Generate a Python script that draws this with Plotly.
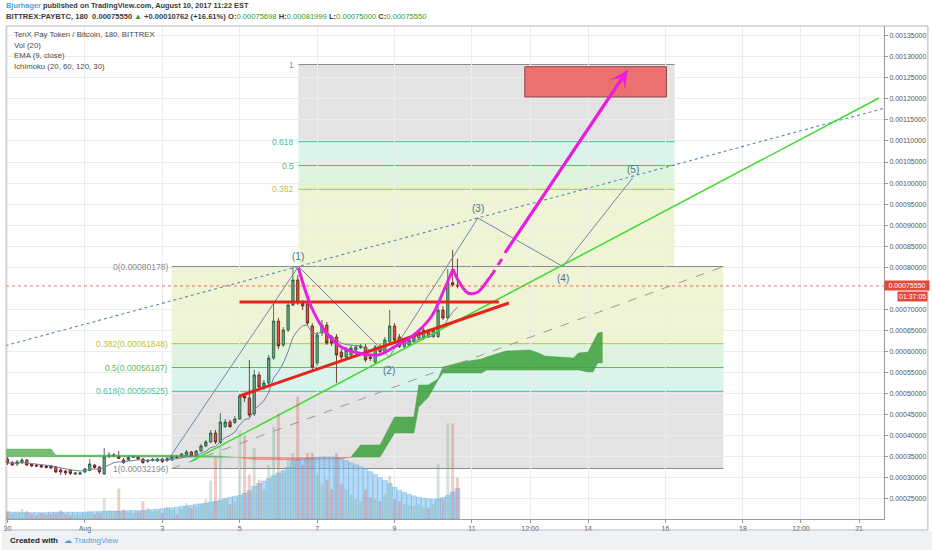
import pandas as pd
import numpy as np
import plotly.graph_objects as go

SAT = 1e-8
FIRST_BAR = pd.Timestamp('2017-07-30 00:00')
BAR_HOURS = 3

# BITTREX:PAYBTC 3h candles from 2017-07-30 00:00, prices in satoshi
OPEN = [34456, 33577, 33268, 33506, 34218, 33268, 33031, 32912, 32793, 32793,
        32556, 31843, 31606, 31843, 30893, 30893, 31368, 31725, 33031, 32556,
        30893, 35049, 35168, 35168, 34218, 34218, 34812, 34931, 34456, 33862,
        34099, 33981, 34456, 34099, 34218, 35049, 34931, 35168, 36118, 35168,
        36356, 37543, 38493, 40631, 38374, 42175, 43244, 43125, 43956, 49419,
        48944, 45144, 54407, 51557, 52507, 58445, 67233, 61532, 65095, 71033,
        76972, 71508, 71271, 66045, 57257, 64383, 66283, 63433, 63433, 59870,
        58682, 59157, 60345, 60938, 61057, 58682, 57495, 61176, 59988, 62364,
        66045, 63433, 61176, 61532, 62364, 63195, 63195, 64739, 63551, 63551,
        69846, 67945, 76330, 75698]
HIGH = [34931, 33981, 34218, 34693, 34456, 33506, 33268, 33031, 33031, 33031,
        32793, 32318, 31843, 32081, 31368, 31368, 32318, 34456, 33268, 32793,
        37068, 36118, 35881, 36356, 34693, 35168, 35406, 35168, 34693, 34456,
        34693, 34693, 34693, 34931, 35406, 35406, 35881, 36593, 36356, 36593,
        38018, 38967, 41343, 41343, 45381, 43956, 43719, 44669, 49894, 50131,
        57970, 55595, 55120, 53219, 59157, 71508, 67945, 65808, 71746, 80178,
        78159, 72221, 71746, 66758, 64620, 67470, 66995, 63908, 64145, 60582,
        61057, 61532, 61532, 61770, 61770, 59157, 61532, 61770, 63433, 69846,
        66758, 64145, 62958, 63195, 64383, 65333, 65570, 65333, 65570, 70558,
        70796, 79584, 84098, 81999]
LOW = [33031, 32793, 32793, 33268, 32793, 32556, 32556, 32318, 32200, 32081,
       31131, 30656, 30656, 30656, 30656, 30656, 31131, 31606, 32081, 30893,
       30656, 34693, 34931, 34456, 33268, 33981, 34693, 34218, 33268, 33506,
       33862, 33743, 33506, 33743, 33981, 34574, 34693, 34931, 34931, 34931,
       36118, 37306, 38256, 38018, 38018, 41818, 41818, 42769, 43719, 47994,
       44431, 44669, 51082, 50844, 52032, 57970, 60582, 61057, 64620, 70796,
       71033, 69846, 66045, 55120, 56545, 63670, 61532, 61295, 52507, 57970,
       58207, 58682, 59870, 60582, 57495, 57732, 57020, 59395, 59632, 62007,
       62245, 60820, 60820, 61057, 62007, 62720, 62720, 63195, 63195, 63195,
       67470, 67708, 75309, 75000]
CLOSE = [33506, 33031, 33815, 34218, 33031, 32793, 32793, 32556, 32437, 32318,
         31368, 31368, 31131, 31012, 31131, 31131, 32081, 33268, 32437, 31368,
         35002, 35406, 35406, 34574, 33624, 34812, 35049, 34456, 33624, 34218,
         34337, 34456, 33862, 34574, 35049, 34812, 35643, 36118, 35168, 36356,
         37543, 38493, 40631, 38493, 43244, 43244, 42175, 43956, 49419, 48944,
         44906, 54407, 51557, 52507, 58445, 67233, 61295, 65095, 71033, 76972,
         71508, 70796, 66758, 56307, 63908, 66283, 62007, 62007, 59157, 58682,
         60345, 60820, 61057, 61295, 57970, 58326, 61057, 59988, 62720, 66045,
         62720, 61176, 62364, 62720, 63908, 64739, 65095, 63551, 65095, 69846,
         67945, 76259, 75784, 75550]
VOLUME = [14, 10, 12, 20, 16, 10, 8, 12, 9, 10,
          12, 18, 10, 8, 9, 8, 12, 14, 10, 12,
          42, 18, 16, 62, 20, 14, 12, 16, 36, 22,
          14, 16, 12, 24, 18, 10, 20, 32, 22, 26,
          30, 40, 78, 124, 150, 40, 30, 36, 180, 170,
          90, 144, 80, 60, 110, 188, 214, 100, 120, 134,
          248, 110, 134, 134, 90, 70, 80, 60, 134, 70,
          60, 50, 40, 36, 60, 44, 40, 36, 50, 88,
          40, 36, 30, 28, 26, 30, 24, 22, 30, 112,
          40, 194, 194, 84]
VOL_MA = [15, 14, 14, 13, 13, 13, 13, 13, 13, 14,
          14, 14, 14, 14, 14, 14, 14, 15, 15, 15,
          16, 16, 16, 16, 16, 17, 17, 17, 17, 18,
          19, 20, 21, 22, 23, 24, 26, 26, 28, 30,
          31, 32, 34, 36, 38, 42, 44, 46, 48, 52,
          58, 66, 72, 77, 82, 88, 93, 98, 105, 118,
          120, 122, 123, 124, 125, 126, 126, 126, 125, 122,
          118, 114, 110, 106, 102, 96, 90, 84, 78, 72,
          64, 58, 54, 50, 47, 44, 42, 41, 40, 41,
          44, 48, 55, 62]

# Ichimoku (20, 60, 120, 30) cloud: bar index, span A, span B
CLOUD1_BAR = [-2, 9, 10, 33, 43, 47]
CLOUD1_A = [36830, 36830, 35400, 35400, 35170, 34870]
CLOUD1_B = [35000, 35000, 35000, 35000, 34930, 34870]
CLOUD2_BAR = [47, 51, 60, 69, 71]
CLOUD2_A = [34870, 34340, 34220, 34460, 34900]
CLOUD2_B = [34870, 34930, 34810, 34930, 34900]
CLOUD3_BAR = [71, 73, 77, 80, 84, 85, 87, 89, 90, 94, 98, 99, 103, 108, 110,
              111, 117, 118, 120, 121, 122, 123]
CLOUD3_A = [34900, 37780, 37780, 44430, 44430, 52030, 52030, 53500, 56310, 57500,
            58200, 58680, 60110, 60350, 59500, 58920, 58450, 59630, 59870, 62000,
            64380, 64620]
CLOUD3_B = [34900, 34900, 34900, 40630, 40630, 46800, 49180, 53220, 54880, 54880,
            54880, 55600, 55600, 55600, 55600, 55600, 55600, 55600, 55120, 55120,
            57260, 57260]

# fib retracements
FIB_LO_T = ['2017-08-03 05:50', '2017-08-17 11:55']
FIB_LO_P = [80178, 61848, 56187, 50525, 32196]
FIB_LO_LABELS = ['0(0.00080178)', '0.382(0.00061848)', '0.5(0.00056187)',
                 '0.618(0.00050525)', '1(0.00032196)']
FIB_UP_T = ['2017-08-06 12:25', '2017-08-16 05:35']
FIB_UP_P = [80178, 98507, 104169, 109831, 128160]
FIB_UP_LABELS = ['', '0.382', '0.5', '0.618', '1']
FIB_LINE = ['#8c8c8c', '#b9c23d', '#5dbd5d', '#4cbf9f', '#8c8c8c']
FIB_ZONE = ['rgba(180,210,60,0.22)', 'rgba(90,200,90,0.2)',
            'rgba(60,200,160,0.2)', 'rgba(128,128,128,0.22)']

# elliott wave
WAVE_T = ['2017-08-03 04:00', '2017-08-06 12:25', '2017-08-08 20:40',
          '2017-08-11 03:40', '2017-08-13 08:20', '2017-08-15 03:35']
WAVE_P = [34456, 80178, 58682, 91700, 80178, 101200]
WAVE_LABELS = ['', '(1)', '(2)', '(3)', '(4)', '(5)']
WAVE_SHIFT = [0, 10, -13, 9, -12, 9]

# cup and handle + projection
CUP_T = ['2017-08-06 12:25', '2017-08-06 20:25', '2017-08-07 04:25', '2017-08-07 15:00',
         '2017-08-08 01:30', '2017-08-08 13:50', '2017-08-08 23:45', '2017-08-09 10:20',
         '2017-08-09 22:40', '2017-08-10 06:40', '2017-08-10 12:15']
CUP_P = [79822, 70558, 65095, 61057, 59632, 59157, 61057, 63433, 68183, 74596, 79584]
HANDLE_T = ['2017-08-10 12:15', '2017-08-10 15:20', '2017-08-10 21:30', '2017-08-11 03:40',
            '2017-08-11 09:55', '2017-08-11 14:15']
HANDLE_P = [79584, 76972, 73884, 74122, 76972, 79347]
DASH_T = ['2017-08-11 16:05', '2017-08-11 18:35']
DASH_P = [80535, 81960]
ARROW_T = ['2017-08-11 20:25', '2017-08-15 00:30']
ARROW_P = [83386, 126853]
TARGET_T = ['2017-08-12 08:45', '2017-08-16 00:35']
TARGET_P = [120440, 127640]

# trend lines
RED_FLAT_T = ['2017-08-04 23:55', '2017-08-11 16:40']
RED_FLAT_P = [71746, 71746]
RED_RISE_T = ['2017-08-04 23:55', '2017-08-11 22:55']
RED_RISE_P = [49419, 71508]
GREEN_T = ['2017-08-03 18:10', '2017-08-21 12:20']
GREEN_P = [33981, 120202]
DOTTED_T = ['2017-07-29 12:00', '2017-08-22 00:00']
DOTTED_P = [60265, 118639]

LAST_PRICE = 75550

TICK_VALS = ['2017-07-30', '2017-08-01', '2017-08-03', '2017-08-05', '2017-08-07',
             '2017-08-09', '2017-08-11', '2017-08-12 12:00', '2017-08-14', '2017-08-16',
             '2017-08-18', '2017-08-19 12:00', '2017-08-21']
TICK_TEXT = ['30', 'Aug', '3', '5', '7', '9', '11', '12:00', '14', '16', '18', '12:00', '21']
# price ticks in satoshi (0.00075 sits under the last price label)
PRICE_TICKS = [25000, 30000, 35000, 40000, 45000, 50000, 55000, 60000, 65000, 70000,
               80000, 85000, 90000, 95000, 100000, 105000, 110000, 115000, 120000,
               125000, 130000, 135000]


def sat(values):
    return np.array(values) * SAT


def bar_times(idx):
    return FIRST_BAR + pd.to_timedelta(np.array(idx) * BAR_HOURS, unit='h')


t = bar_times(np.arange(len(OPEN)))
close = pd.Series(sat(CLOSE))
ema = close.ewm(span=9, adjust=False).mean()
up = np.array(CLOSE) >= np.array(OPEN)

FONT = 'Liberation Sans'
fig = go.Figure()


def add_cloud(bars, span_a, span_b, color):
    ct = bar_times(bars)
    fig.add_trace(go.Scatter(x=ct, y=sat(span_b), mode='lines',
                             line=dict(width=0.5, color=color), hoverinfo='skip'))
    fig.add_trace(go.Scatter(x=ct, y=sat(span_a), mode='lines',
                             line=dict(width=0.5, color=color),
                             fill='tonexty', fillcolor=color, hoverinfo='skip'))


add_cloud(CLOUD1_BAR, CLOUD1_A, CLOUD1_B, 'rgba(70,170,70,0.75)')
add_cloud(CLOUD2_BAR, CLOUD2_A, CLOUD2_B, 'rgba(240,90,90,0.55)')
add_cloud(CLOUD3_BAR, CLOUD3_A, CLOUD3_B, 'rgba(60,160,60,0.85)')

# fib trend line
fig.add_trace(go.Scatter(x=FIB_LO_T, y=sat([FIB_LO_P[-1], FIB_LO_P[0]]), mode='lines',
                         line=dict(color='#9a9a9a', width=1, dash='dash'), hoverinfo='skip'))

fig.add_trace(go.Candlestick(
    x=t, open=sat(OPEN), high=sat(HIGH), low=sat(LOW), close=sat(CLOSE),
    increasing=dict(fillcolor='#6ba583', line=dict(color='#225437', width=0.8)),
    decreasing=dict(fillcolor='#d75442', line=dict(color='#5b1a13', width=0.8)),
    whiskerwidth=0, hoverinfo='skip'))

fig.add_trace(go.Scatter(x=t, y=ema, mode='lines',
                         line=dict(color='#6f7fa3', width=1), hoverinfo='skip'))

# trend lines
fig.add_trace(go.Scatter(x=DOTTED_T, y=sat(DOTTED_P), mode='lines',
                         line=dict(color='#5f86b5', width=1.1, dash='dot'), hoverinfo='skip'))
fig.add_trace(go.Scatter(x=GREEN_T, y=sat(GREEN_P), mode='lines',
                         line=dict(color='#3fdc2c', width=1.5), hoverinfo='skip'))
fig.add_trace(go.Scatter(x=WAVE_T, y=sat(WAVE_P), mode='lines',
                         line=dict(color='#6d8aa3', width=1), hoverinfo='skip'))
for tt, pp in [(RED_FLAT_T, RED_FLAT_P), (RED_RISE_T, RED_RISE_P)]:
    fig.add_trace(go.Scatter(x=tt, y=sat(pp), mode='lines',
                             line=dict(color='#e8221c', width=3), hoverinfo='skip'))

MAGENTA = '#e81ee0'
for tt, pp in [(CUP_T, CUP_P), (HANDLE_T, HANDLE_P)]:
    fig.add_trace(go.Scatter(x=tt, y=sat(pp), mode='lines',
                             line=dict(color=MAGENTA, width=3, shape='spline'), hoverinfo='skip'))
fig.add_trace(go.Scatter(x=DASH_T, y=sat(DASH_P), mode='lines',
                         line=dict(color=MAGENTA, width=3), hoverinfo='skip'))
fig.add_trace(go.Scatter(x=ARROW_T, y=sat(ARROW_P), mode='lines',
                         line=dict(color=MAGENTA, width=3), hoverinfo='skip'))

# volume on its own hidden scale
fig.add_trace(go.Bar(x=t, y=VOL_MA, yaxis='y2', width=BAR_HOURS * 3600 * 1000,
                     marker=dict(color='rgba(120,190,240,0.55)',
                                 line=dict(width=0.6, color='rgba(70,150,215,0.45)')),
                     hoverinfo='skip'))
fig.add_trace(go.Bar(x=t, y=VOLUME, yaxis='y2', width=BAR_HOURS * 3600 * 1000 * 0.6,
                     marker=dict(color=np.where(up, 'rgba(107,165,131,0.3)', 'rgba(215,84,66,0.3)'),
                                 line=dict(width=0)),
                     hoverinfo='skip'))

shapes = []
annotations = []

for ft, fp, flabels in [(FIB_LO_T, FIB_LO_P, FIB_LO_LABELS), (FIB_UP_T, FIB_UP_P, FIB_UP_LABELS)]:
    for k in range(4):
        shapes.append(dict(type='rect', xref='x', yref='y', x0=ft[0], x1=ft[1],
                           y0=fp[k] * SAT, y1=fp[k + 1] * SAT, fillcolor=FIB_ZONE[k],
                           line=dict(width=0), layer='below'))
    for k in range(5):
        shapes.append(dict(type='line', xref='x', yref='y', x0=ft[0], x1=ft[1],
                           y0=fp[k] * SAT, y1=fp[k] * SAT,
                           line=dict(color=FIB_LINE[k], width=1), layer='below'))
        if flabels[k]:
            annotations.append(dict(x=ft[0], y=fp[k] * SAT, xref='x', yref='y', text=flabels[k],
                                    showarrow=False, xanchor='right', yanchor='middle', xshift=-2,
                                    font=dict(family=FONT, size=8.5, color=FIB_LINE[k])))

shapes.append(dict(type='rect', xref='x', yref='y', x0=TARGET_T[0], x1=TARGET_T[1],
                   y0=TARGET_P[0] * SAT, y1=TARGET_P[1] * SAT,
                   fillcolor='rgba(240,80,80,0.78)', line=dict(color='#8a4a4a', width=1)))

shapes.append(dict(type='line', xref='paper', yref='y', x0=0, x1=1,
                   y0=LAST_PRICE * SAT, y1=LAST_PRICE * SAT,
                   line=dict(color='rgba(226,81,65,0.8)', width=1, dash='dot')))

# frame and footer band
shapes.append(dict(type='rect', xref='paper', yref='paper', x0=-0.0045, x1=1.0545,
                   y0=-0.0243, y1=-0.07, fillcolor='#eef1f5', line=dict(width=0), layer='below'))
shapes.append(dict(type='rect', xref='paper', yref='paper', x0=0, x1=1.05,
                   y0=-0.0223, y1=1.0, line=dict(color='#b5b5b5', width=1)))

for wt, wp, wl, ws in zip(WAVE_T, WAVE_P, WAVE_LABELS, WAVE_SHIFT):
    if wl:
        annotations.append(dict(x=wt, y=wp * SAT, xref='x', yref='y', text=wl, showarrow=False,
                                yshift=ws, font=dict(family=FONT, size=10, color='#4f6f8f')))

annotations.append(dict(x=ARROW_T[1], y=ARROW_P[1] * SAT, ax=ARROW_T[0], ay=ARROW_P[0] * SAT,
                        xref='x', yref='y', axref='x', ayref='y', text='', showarrow=True,
                        arrowhead=3, arrowsize=1, arrowwidth=3, arrowcolor=MAGENTA))

GREEN = '#2a9d2a'
header1 = ("<b><span style='color:#4fa3db'>Bjurhager</span> published on TradingView.com, "
           "August 10, 2017 11:22 EST</b>")
header2 = ("<b>BITTREX:PAYBTC, 180  0.00075550 </b><span style='color:%s'>▲</span>"
           "<b> +0.00010762 (+16.61%%) O:</b><span style='color:%s'>0.00075698</span>"
           "<b> H:</b><span style='color:%s'>0.00081999</span>"
           "<b> L:</b><span style='color:%s'>0.00075000</span>"
           "<b> C:</b><span style='color:%s'>0.00075550</span>") % ((GREEN,) * 5)
annotations.append(dict(x=-0.0023, y=1.0406, xref='paper', yref='paper', text=header1,
                        showarrow=False, xanchor='left', yanchor='middle',
                        font=dict(family=FONT, size=7.4, color='#3a3a3a')))
annotations.append(dict(x=-0.0023, y=1.0183, xref='paper', yref='paper', text=header2,
                        showarrow=False, xanchor='left', yanchor='middle',
                        font=dict(family=FONT, size=7.6, color='#3a3a3a')))

legend_lines = ['TenX Pay Token / Bitcoin, 180, BITTREX', 'Vol (20)', 'EMA (9, close)',
                'Ichimoku (20, 60, 120, 30)']
for k, line in enumerate(legend_lines):
    annotations.append(dict(x=0.0068, y=(519 - 35 - 10.4 * k) / 493, xref='paper', yref='paper',
                            text=line, showarrow=False, xanchor='left', yanchor='middle',
                            font=dict(family=FONT, size=7.8, color='#4a4a4a')))

annotations.append(dict(x=1.0, y=LAST_PRICE * SAT, xref='paper', yref='y', text='0.00075550',
                        showarrow=False, xanchor='left', yanchor='middle', bgcolor='#e04a3c',
                        width=42, borderpad=1, font=dict(family=FONT, size=7, color='white')))
annotations.append(dict(x=1.05, y=LAST_PRICE * SAT, xref='paper', yref='y', text='01:37:05',
                        showarrow=False, xanchor='right', yanchor='middle', yshift=-11,
                        bgcolor='#e04a3c', borderpad=1,
                        font=dict(family=FONT, size=7, color='white')))

annotations.append(dict(x=0.0023, y=-0.0426, xref='paper', yref='paper',
                        text="<b>Created with</b>", showarrow=False, xanchor='left',
                        yanchor='middle', font=dict(family=FONT, size=8, color='#222')))
annotations.append(dict(x=(60 - 4) / 880, y=-0.0426, xref='paper', yref='paper',
                        text="☁ TradingView", showarrow=False, xanchor='left',
                        yanchor='middle', font=dict(family=FONT, size=8, color='#4fa3db')))

fig.update_layout(
    width=932, height=550,
    margin=dict(l=4, r=48, t=26, b=31),
    paper_bgcolor='white', plot_bgcolor='white',
    showlegend=False, barmode='overlay', hovermode=False,
    shapes=shapes, annotations=annotations,
    xaxis=dict(type='date', range=['2017-07-29 23:06', '2017-08-21 15:28'],
               tickvals=TICK_VALS, ticktext=TICK_TEXT, showgrid=True, gridcolor='#ececec',
               ticks='outside', ticklen=3, tickcolor='#999', showline=True,
               linecolor='#9a9a9a', zeroline=False, rangeslider=dict(visible=False),
               tickfont=dict(family=FONT, size=7, color='#555')),
    yaxis=dict(side='right', range=[0.00020202, 0.00137304],
               tickvals=sat(PRICE_TICKS), tickformat='.8f', showgrid=True, gridcolor='#ececec',
               ticks='outside', ticklen=3, tickcolor='#999', showline=True, linecolor='#9a9a9a',
               zeroline=False, tickfont=dict(family=FONT, size=7, color='#555')),
    yaxis2=dict(overlaying='y', range=[0, 1000], visible=False, fixedrange=True),
)

fig.write_html('out.html', config={'displayModeBar': False},
               post_script="document.body.style.margin='0px';")
